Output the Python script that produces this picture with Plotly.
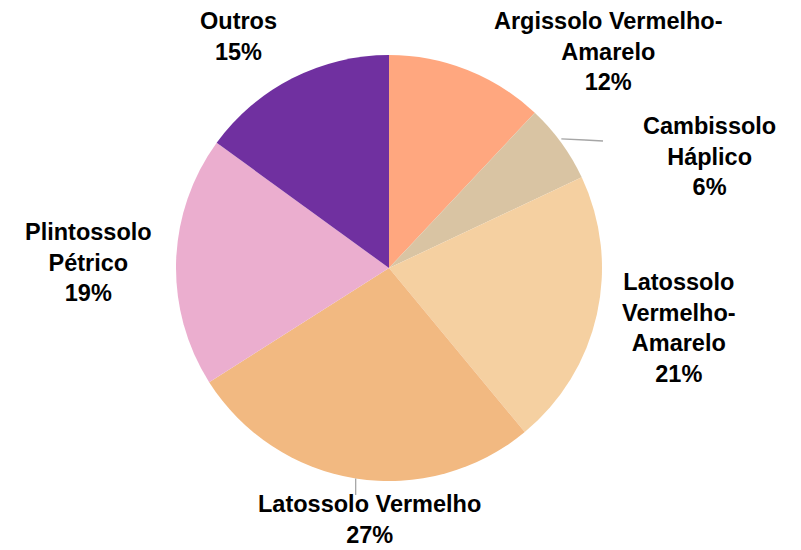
import math
import plotly.graph_objects as go

# ---- data ----
categories = ["Argissolo Vermelho-Amarelo", "Cambissolo Háplico",
              "Latossolo Vermelho-Amarelo", "Latossolo Vermelho",
              "Plintossolo Pétrico", "Outros"]
label_lines = ["Argissolo Vermelho-<br>Amarelo", "Cambissolo<br>Háplico",
               "Latossolo<br>Vermelho-<br>Amarelo", "Latossolo Vermelho",
               "Plintossolo<br>Pétrico", "Outros"]
values = [12, 6, 21, 27, 19, 15]

# ---- style / layout ----
colors = ["#FFA77F", "#D9C4A3", "#F5D0A1", "#F2B981", "#EBAECF", "#7030A0"]
W, H = 801, 550
CX, CY, R = 389, 268, 213
label_pos = [(608, 51), (709, 157), (679, 328), (369, 519), (88, 262), (238, 37)]

fig = go.Figure()
fig.add_trace(go.Pie(
    labels=categories, values=values, sort=False, direction="clockwise",
    rotation=0, textinfo="none", hoverinfo="label+percent",
    marker=dict(colors=colors, line=dict(width=0)),
    domain=dict(x=[(CX - R) / W, (CX + R) / W],
                y=[(H - CY - R) / H, (H - CY + R) / H]),
    showlegend=False,
))

total = sum(values)
annotations = []
shapes = []
cum = 0
for i, (v, txt) in enumerate(zip(values, label_lines)):
    pct = round(100 * v / total)
    x, y = label_pos[i]
    annotations.append(dict(
        x=x / W, y=1 - y / H, xref="paper", yref="paper",
        text=f"{txt}<br>{pct}%", showarrow=False,
        xanchor="center", yanchor="middle", align="center",
        font=dict(family="Liberation Sans, Arial, sans-serif", size=23.5,
                  color="#000000", weight="bold"),
    ))
    mid = (cum + v / 2) / total * 2 * math.pi
    ex = CX + R * math.sin(mid)
    ey = CY - R * math.cos(mid)
    if i == 1:
        pts = [(ex, ey - 4), (585, 140), (603, 141)]
        for (x0, y0), (x1, y1) in zip(pts[:-1], pts[1:]):
            shapes.append(dict(type="line", xref="paper", yref="paper",
                               x0=x0 / W, y0=1 - y0 / H, x1=x1 / W, y1=1 - y1 / H,
                               line=dict(color="#A6A6A6", width=1.3)))
    if i == 3:
        shapes.append(dict(type="line", xref="paper", yref="paper",
                           x0=ex / W, y0=1 - ey / H, x1=ex / W, y1=1 - 495 / H,
                           line=dict(color="#A6A6A6", width=1.3)))
    cum += v

fig.update_layout(
    width=W, height=H, margin=dict(l=0, r=0, t=0, b=0),
    paper_bgcolor="white", plot_bgcolor="white",
    annotations=annotations, shapes=shapes,
)
fig.write_html("out.html")
